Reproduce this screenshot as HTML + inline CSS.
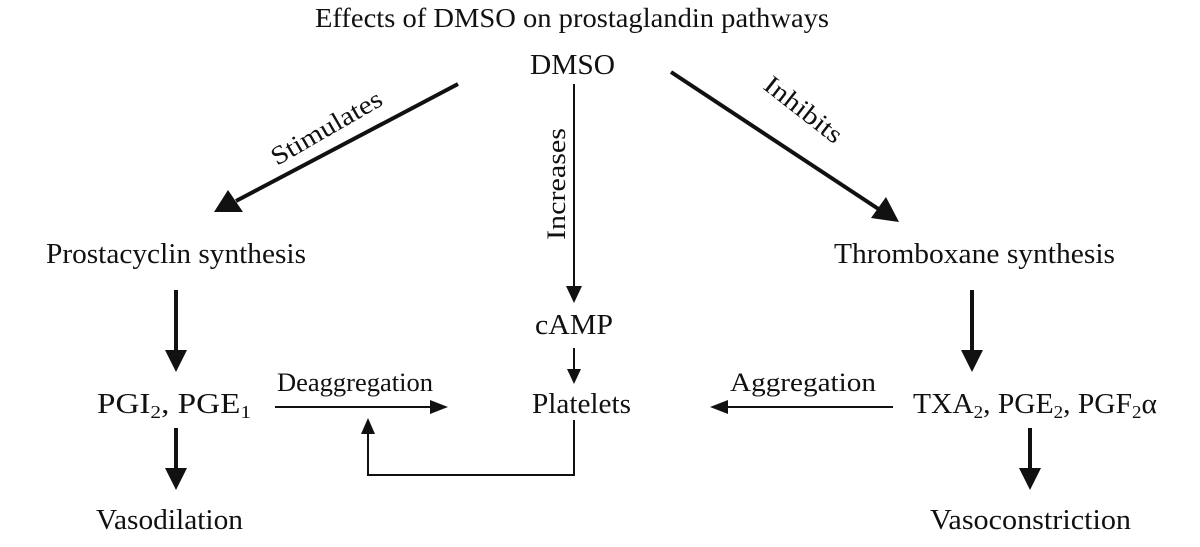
<!DOCTYPE html>
<html><head><meta charset="utf-8"><style>
html,body{margin:0;padding:0;background:#fff;}
svg text{font-family:"Liberation Serif",serif;fill:#111;}
</style></head><body>
<svg width="1200" height="542" viewBox="0 0 1200 542" xmlns="http://www.w3.org/2000/svg">
<rect width="1200" height="542" fill="#fff"/>
<g font-size="28" text-anchor="start">
<text x="315" y="27" font-size="27" textLength="514" lengthAdjust="spacingAndGlyphs">Effects of DMSO on prostaglandin pathways</text>
<text x="530" y="74" textLength="85" lengthAdjust="spacingAndGlyphs">DMSO</text>
<text x="46" y="263" textLength="260" lengthAdjust="spacingAndGlyphs">Prostacyclin synthesis</text>
<text x="834" y="263" textLength="281" lengthAdjust="spacingAndGlyphs">Thromboxane synthesis</text>
<text x="535" y="334" textLength="78" lengthAdjust="spacingAndGlyphs">cAMP</text>
<text x="532" y="413" textLength="99" lengthAdjust="spacingAndGlyphs">Platelets</text>
<text x="97" y="413" textLength="154" lengthAdjust="spacingAndGlyphs">PGI<tspan font-size="18" dy="5">2</tspan><tspan dy="-5">, PGE</tspan><tspan font-size="18" dy="5">1</tspan></text>
<text x="913" y="413" textLength="244" lengthAdjust="spacingAndGlyphs">TXA<tspan font-size="18" dy="5">2</tspan><tspan dy="-5">, PGE</tspan><tspan font-size="18" dy="5">2</tspan><tspan dy="-5">, PGF</tspan><tspan font-size="18" dy="5">2</tspan><tspan dy="-5">α</tspan></text>
<text x="96" y="529" textLength="147" lengthAdjust="spacingAndGlyphs">Vasodilation</text>
<text x="930" y="529" textLength="201" lengthAdjust="spacingAndGlyphs">Vasoconstriction</text>
<text x="277" y="391" font-size="26" textLength="156" lengthAdjust="spacingAndGlyphs">Deaggregation</text>
<text x="730" y="391" font-size="26" textLength="146" lengthAdjust="spacingAndGlyphs">Aggregation</text>
<text x="0" y="0" font-size="26" textLength="112" lengthAdjust="spacingAndGlyphs" transform="translate(565,240) rotate(-90)">Increases</text>
<text x="0" y="0" font-size="26" textLength="124" lengthAdjust="spacingAndGlyphs" transform="translate(277,166) rotate(-30)">Stimulates</text>
<text x="0" y="0" font-size="26" textLength="92" lengthAdjust="spacingAndGlyphs" transform="translate(762,88) rotate(38)">Inhibits</text>
</g>
<g stroke="#111" fill="none">
<line x1="458" y1="84" x2="236" y2="201" stroke-width="4"/>
<line x1="671" y1="72" x2="880" y2="210" stroke-width="4"/>
<line x1="574" y1="84" x2="574" y2="288" stroke-width="2"/>
<line x1="574" y1="348" x2="574" y2="372" stroke-width="2"/>
<line x1="275" y1="407" x2="432" y2="407" stroke-width="2"/>
<line x1="893" y1="407" x2="726" y2="407" stroke-width="2"/>
<polyline points="574,420 574,475 368,475 368,434" stroke-width="2"/>
<line x1="176" y1="290" x2="176" y2="352" stroke-width="4"/>
<line x1="972" y1="290" x2="972" y2="352" stroke-width="4"/>
<line x1="176" y1="428" x2="176" y2="472" stroke-width="4"/>
<line x1="1030" y1="428" x2="1030" y2="472" stroke-width="4"/>
</g>
<g fill="#111">
<polygon points="214,212 228,190 243,212"/>
<polygon points="899,222 871,218 886,197"/>
<polygon points="574,303 566,286 582,286"/>
<polygon points="574,384 567,369 581,369"/>
<polygon points="448,407 430,400 430,414"/>
<polygon points="710,407 728,400 728,414"/>
<polygon points="368,418 361,434 375,434"/>
<polygon points="176,372 165,350 187,350"/>
<polygon points="972,372 961,350 983,350"/>
<polygon points="176,490 165,468 187,468"/>
<polygon points="1030,490 1019,468 1041,468"/>
</g>
</svg>
</body></html>
